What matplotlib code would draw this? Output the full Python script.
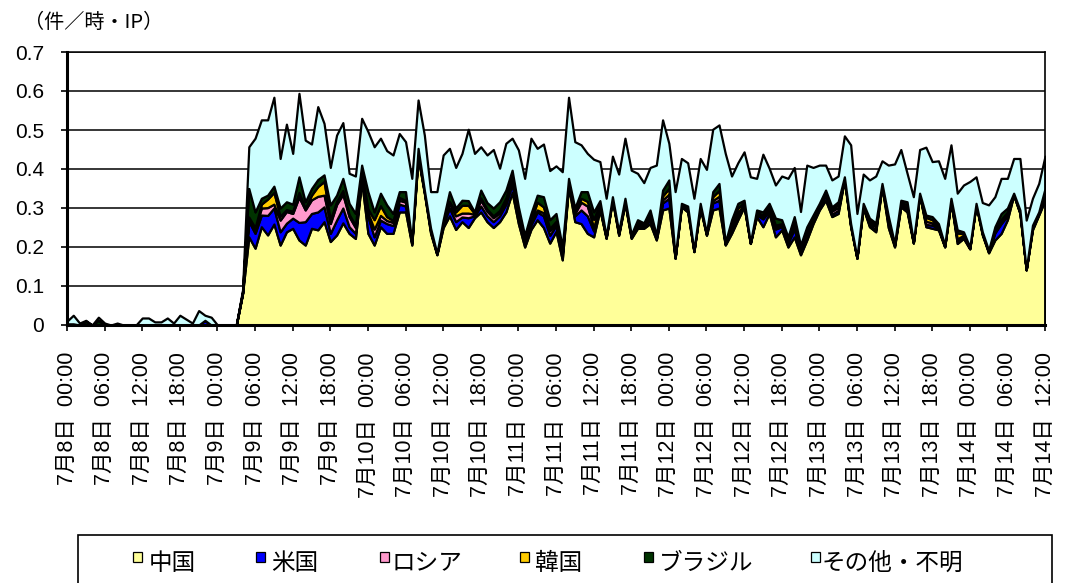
import numpy as np
import matplotlib
matplotlib.use('Agg')
import matplotlib.pyplot as plt
from matplotlib.patches import Rectangle

# hourly values, 7/8 00:00 .. 7/14 12:00 (157 points)
china = [
    0, 0, 0, 0, 0, 0, 0, 0, 0, 0, 0, 0, 0, 0, 0, 0, 0, 0, 0, 0, 0, 0, 0, 0,
    0, 0, 0, 0, 0.08,
    0.226, 0.197, 0.252, 0.231, 0.259, 0.205, 0.239, 0.248, 0.218, 0.205, 0.248, 0.244,
    0.265, 0.214, 0.231, 0.262, 0.235, 0.222, 0.37, 0.235, 0.205, 0.252, 0.235, 0.235,
    0.29, 0.29, 0.205, 0.43, 0.338, 0.235, 0.18, 0.25, 0.28, 0.245, 0.265, 0.25, 0.275,
    0.29, 0.265, 0.25, 0.265, 0.29, 0.34, 0.26, 0.2, 0.245, 0.27, 0.25, 0.21, 0.24,
    0.167, 0.355, 0.265, 0.26, 0.235, 0.226, 0.295, 0.222, 0.32, 0.23, 0.312, 0.222, 0.248,
    0.248, 0.26, 0.218, 0.295, 0.30, 0.171, 0.303, 0.29, 0.188, 0.30, 0.23, 0.295, 0.30,
    0.205, 0.235, 0.27, 0.303, 0.209, 0.278, 0.252, 0.286, 0.226, 0.244, 0.2, 0.226, 0.18,
    0.218, 0.26, 0.295, 0.32, 0.278, 0.286, 0.372, 0.252, 0.171, 0.30, 0.252, 0.239, 0.355,
    0.25, 0.2, 0.303, 0.29, 0.21, 0.333, 0.252, 0.248, 0.244, 0.2, 0.316, 0.209, 0.222,
    0.195, 0.308, 0.231, 0.185, 0.218, 0.235, 0.27, 0.333, 0.286, 0.141, 0.244, 0.282, 0.32,
]
usa = [
    0, 0, 0, 0, 0, 0, 0, 0, 0, 0, 0, 0, 0, 0, 0, 0, 0, 0, 0, 0, 0, 0, 0.012, 0,
    0, 0, 0, 0, 0.002,
    0.04, 0.038, 0.03, 0.05, 0.041, 0.034, 0.022, 0.026, 0.045, 0.06, 0.038, 0.046,
    0.038, 0.021, 0.038, 0.038, 0.017, 0.013, 0.005, 0.043, 0.021, 0.017, 0.025, 0.02,
    0.02, 0.015, 0.004, 0.005, 0.003, 0.005, 0.002, 0.008, 0.02, 0.02, 0.012, 0.025, 0.005,
    0.015, 0.015, 0.015, 0.015, 0.02, 0.022, 0.012, 0.01, 0.012, 0.02, 0.03, 0.02, 0.015,
    0.012, 0.006, 0.015, 0.035, 0.045, 0.015, 0.005, 0.002, 0.003, 0.003, 0.003, 0.003, 0.007,
    0.003, 0.01, 0.003, 0.018, 0.025, 0.001, 0.003, 0.005, 0.001, 0.004, 0.002, 0.018, 0.02,
    0.002, 0.012, 0.01, 0.004, 0.001, 0.005, 0.02, 0.008, 0.02, 0.008, 0.01, 0.02, 0.008,
    0.01, 0.008, 0.006, 0.012, 0.006, 0.008, 0.002, 0.002, 0.001, 0.003, 0.005, 0.006, 0.002,
    0.01, 0.003, 0.006, 0.006, 0.001, 0.001, 0.006, 0.008, 0.004, 0.001, 0.002, 0.008, 0.005,
    0.001, 0.002, 0.003, 0.002, 0.018, 0.025, 0.01, 0.001, 0.002, 0.001, 0.004, 0.003, 0.015,
]
russia = [
    0.003, 0.003, 0, 0, 0, 0, 0, 0, 0, 0, 0, 0, 0, 0, 0, 0, 0, 0, 0, 0, 0, 0, 0, 0,
    0, 0, 0, 0, 0,
    0.006, 0.01, 0.018, 0.02, 0.01, 0.03, 0.03, 0.012, 0.065, 0.03, 0.035, 0.04,
    0.03, 0.025, 0.04, 0.035, 0.026, 0.015, 0.005, 0.01, 0.02, 0.012, 0.008, 0.008,
    0.01, 0.01, 0.002, 0.003, 0.001, 0.002, 0.0, 0.004, 0.012, 0.015, 0.01, 0.012, 0.004,
    0.015, 0.012, 0.01, 0.008, 0.012, 0.012, 0.005, 0.003, 0.005, 0.005, 0.008, 0.012, 0.006,
    0.004, 0.003, 0.006, 0.02, 0.025, 0.01, 0.004, 0.001, 0.002, 0.002, 0.004, 0.002, 0.005,
    0.004, 0.01, 0.002, 0.008, 0.01, 0.001, 0.002, 0.003, 0.001, 0.002, 0.001, 0.006, 0.01,
    0.001, 0.01, 0.008, 0.003, 0.0, 0.004, 0.006, 0.005, 0.005, 0.004, 0.003, 0.015, 0.005,
    0.012, 0.004, 0.003, 0.004, 0.008, 0.008, 0.002, 0.002, 0.0, 0.002, 0.005, 0.008, 0.002,
    0.008, 0.002, 0.002, 0.004, 0.001, 0.001, 0.008, 0.006, 0.003, 0.001, 0.002, 0.004, 0.003,
    0.001, 0.0, 0.001, 0.001, 0.004, 0.005, 0.004, 0.002, 0.002, 0.0, 0.002, 0.001, 0.004,
]
korea = [
    0, 0, 0, 0.002, 0, 0, 0, 0, 0, 0, 0, 0, 0, 0, 0, 0, 0, 0, 0, 0, 0, 0, 0, 0,
    0, 0, 0, 0, 0,
    0.005, 0.005, 0.01, 0.022, 0.03, 0.01, 0.005, 0.006, 0.012, 0.005, 0.012, 0.025,
    0.035, 0.01, 0.008, 0.01, 0.006, 0.006, 0.015, 0.01, 0.024, 0.025, 0.01, 0.005,
    0.007, 0.005, 0.002, 0.005, 0.002, 0.002, 0.0, 0.003, 0.005, 0.01, 0.02, 0.02, 0.002,
    0.006, 0.005, 0.005, 0.006, 0.004, 0.008, 0.005, 0.004, 0.006, 0.02, 0.015, 0.006, 0.005,
    0.004, 0.004, 0.004, 0.01, 0.012, 0.02, 0.008, 0.001, 0.002, 0.002, 0.002, 0.002, 0.005,
    0.004, 0.005, 0.003, 0.01, 0.015, 0.001, 0.002, 0.003, 0.001, 0.003, 0.001, 0.01, 0.015,
    0.002, 0.005, 0.012, 0.005, 0.001, 0.003, 0.004, 0.005, 0.005, 0.004, 0.003, 0.007, 0.004,
    0.004, 0.004, 0.003, 0.004, 0.005, 0.008, 0.002, 0.002, 0.001, 0.004, 0.006, 0.004, 0.002,
    0.006, 0.002, 0.004, 0.008, 0.001, 0.002, 0.01, 0.008, 0.004, 0.002, 0.003, 0.015, 0.004,
    0.002, 0.001, 0.002, 0.002, 0.004, 0.006, 0.006, 0.001, 0.003, 0.0, 0.003, 0.002, 0.005,
]
brazil = [
    0, 0, 0, 0.008, 0, 0.012, 0, 0, 0, 0, 0, 0, 0, 0, 0, 0, 0, 0, 0, 0, 0, 0, 0, 0,
    0, 0, 0, 0, 0.003,
    0.073, 0.04, 0.015, 0.01, 0.016, 0.021, 0.02, 0.018, 0.04, 0.016, 0.017, 0.018,
    0.017, 0.038, 0.016, 0.031, 0.028, 0.03, 0.015, 0.044, 0.02, 0.032, 0.03, 0.018,
    0.015, 0.022, 0.002, 0.01, 0.002, 0.004, 0.002, 0.005, 0.025, 0.01, 0.013, 0.012, 0.004,
    0.02, 0.017, 0.02, 0.022, 0.02, 0.015, 0.021, 0.013, 0.018, 0.018, 0.026, 0.022, 0.02,
    0.013, 0.008, 0.01, 0.017, 0.025, 0.019, 0.007, 0.002, 0.002, 0.003, 0.004, 0.003, 0.005,
    0.003, 0.01, 0.004, 0.015, 0.022, 0.001, 0.002, 0.004, 0.001, 0.003, 0.002, 0.013, 0.018,
    0.002, 0.008, 0.012, 0.005, 0.001, 0.005, 0.008, 0.008, 0.018, 0.01, 0.01, 0.01, 0.008,
    0.008, 0.006, 0.005, 0.006, 0.006, 0.006, 0.002, 0.002, 0.001, 0.003, 0.006, 0.005, 0.002,
    0.006, 0.002, 0.005, 0.008, 0.001, 0.001, 0.006, 0.008, 0.005, 0.001, 0.002, 0.008, 0.005,
    0.001, 0.001, 0.002, 0.002, 0.008, 0.015, 0.01, 0.001, 0.002, 0.001, 0.003, 0.002, 0.006,
]
other = [
    0.007, 0.022, 0.005, 0.002, 0.0, 0.008, 0.005, 0.0, 0.005, 0.0, 0.0, 0.0, 0.018, 0.018,
    0.008, 0.008, 0.018, 0.005, 0.025, 0.015, 0.005, 0.037, 0.013, 0.02, 0.0, 0.0, 0.0, 0.0,
    0.005,
    0.107, 0.189, 0.201, 0.193, 0.228, 0.127, 0.199, 0.13, 0.214, 0.158, 0.114, 0.187,
    0.132, 0.096, 0.154, 0.143, 0.077, 0.096, 0.12, 0.154, 0.167, 0.141, 0.139, 0.15,
    0.149, 0.128, 0.161, 0.124, 0.141, 0.094, 0.158, 0.166, 0.111, 0.104, 0.12, 0.183, 0.15,
    0.111, 0.122, 0.15, 0.086, 0.12, 0.082, 0.146, 0.146, 0.193, 0.12, 0.135, 0.126, 0.122,
    0.193, 0.208, 0.17, 0.12, 0.098, 0.135, 0.1, 0.097, 0.104, 0.147, 0.154, 0.165, 0.119,
    0.103, 0.109, 0.18, 0.18, 0.094, 0.167, 0.115, 0.111, 0.133, 0.115, 0.163, 0.16, 0.15,
    0.228, 0.112, 0.104, 0.124, 0.168, 0.081, 0.148, 0.09, 0.085, 0.112, 0.15, 0.126, 0.086,
    0.158, 0.122, 0.098, 0.064, 0.069, 0.066, 0.105, 0.202, 0.112, 0.075, 0.098, 0.12, 0.058,
    0.13, 0.204, 0.13, 0.073, 0.115, 0.112, 0.174, 0.141, 0.161, 0.171, 0.137, 0.094, 0.12,
    0.168, 0.068, 0.075, 0.116, 0.077, 0.09, 0.076, 0.089, 0.132, 0.126, 0.069, 0.073, 0.083,
]

series_names = ['中国', '米国', 'ロシア', '韓国', 'ブラジル', 'その他・不明']
series_colors = ['#FFFF99', '#0000FF', '#FF99CC', '#FFCC00', '#003300', '#CCFFFF']

x_labels = [
    '7月8日  00:00', '7月8日  06:00', '7月8日  12:00', '7月8日  18:00',
    '7月9日  00:00', '7月9日  06:00', '7月9日  12:00', '7月9日  18:00',
    '7月10日  00:00', '7月10日  06:00', '7月10日  12:00', '7月10日  18:00',
    '7月11日  00:00', '7月11日  06:00', '7月11日  12:00', '7月11日  18:00',
    '7月12日  00:00', '7月12日  06:00', '7月12日  12:00', '7月12日  18:00',
    '7月13日  00:00', '7月13日  06:00', '7月13日  12:00', '7月13日  18:00',
    '7月14日  00:00', '7月14日  06:00', '7月14日  12:00',
]
y_labels = ['0', '0.1', '0.2', '0.3', '0.4', '0.5', '0.6', '0.7']
unit_label = '（件／時・IP）'

plt.rcParams['font.family'] = ['Liberation Sans', 'Noto Sans CJK JP', 'DejaVu Sans']
CJK = ['Noto Sans CJK JP', 'DejaVu Sans']

W, H = 1065, 583
fig = plt.figure(figsize=(W / 100, H / 100), dpi=100)
ax = fig.add_axes([67 / W, 1 - 325 / H, (1045 - 67) / W, (325 - 52) / H])

hours = np.arange(len(china))
ax.stackplot(hours, china, usa, russia, korea, brazil, other,
             colors=series_colors, edgecolor='black', linewidth=1.6)

ax.set_xlim(0, hours[-1])
ax.set_ylim(0, 0.7)
ax.set_yticks(np.arange(len(y_labels)) * 0.1)
ax.set_yticklabels(y_labels, fontsize=15)
ax.set_xticks(np.arange(0, hours[-1] + 1, 6))
ax.set_xticklabels(x_labels, rotation=90, fontsize=15.5)

ax.set_axisbelow(True)
ax.yaxis.grid(True, color='black', linewidth=1.1)
ax.tick_params(axis='y', direction='out', length=4.5, width=1.2, pad=12)
ax.tick_params(axis='x', direction='out', length=4.5, width=1.2, pad=15)

for side in ['left', 'bottom']:
    ax.spines[side].set_linewidth(2.2)
ax.spines['right'].set_linewidth(1.2)
ax.spines['top'].set_linewidth(1.1)

fig.text(24 / W, 1 - 23 / H, unit_label, fontsize=14.5, family=CJK, va='center', ha='left')

# legend box (bottom runs off the figure like the original)
fig.add_artist(Rectangle((78 / W, -0.05), (1052 - 78) / W, (H - 535) / H + 0.05,
                         transform=fig.transFigure, fill=False, edgecolor='black',
                         linewidth=1.2, clip_on=False))
marker_x = [133, 256, 380, 520, 644, 811]
text_x = [149, 271, 392, 535, 659, 822]
for name, color, mx, tx in zip(series_names, series_colors, marker_x, text_x):
    fig.add_artist(Rectangle((mx / W, 1 - 562 / H), 9 / W, 10 / H, transform=fig.transFigure,
                             facecolor=color, edgecolor='black', linewidth=0.9))
    fig.text(tx / W, 1 - 563 / H, name, fontsize=17, family=CJK, va='center', ha='left')

fig.savefig('out.png', dpi=100)
